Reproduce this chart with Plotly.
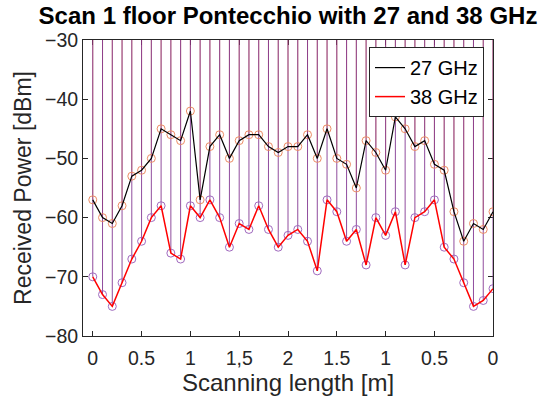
import plotly.graph_objects as go

# Scan positions along the path [m] (out and back, 0.1 m step)
positions = [0.0, 0.1, 0.2, 0.3, 0.4, 0.5, 0.6, 0.7, 0.8, 0.9, 1.0, 1.1, 1.2, 1.3,
             1.4, 1.5, 1.6, 1.7, 1.8, 1.9, 2.0, 2.1, 2.2, 2.3, 2.4, 2.5, 2.6, 2.7,
             2.8, 2.9, 3.0, 3.1, 3.2, 3.3, 3.4, 3.5, 3.6, 3.7, 3.8, 3.9, 4.0, 4.1]

# Received power [dBm]
p27 = [-57, -60, -61, -58, -53, -52, -50, -45, -46, -47, -42, -57, -48, -46,
       -50, -47, -46, -46, -48, -49, -48, -48, -46, -50, -45, -50, -51, -55,
       -47, -49, -52, -43, -45, -48, -47, -51, -52, -59, -64, -61, -62, -59]
p38 = [-70, -73, -75, -71, -67, -64, -60, -58, -66, -67, -58, -60, -57, -60,
       -65, -61, -62, -58, -62, -65, -63, -62, -64, -69, -57, -59, -64, -62,
       -68, -60, -63, -59, -68, -60, -59, -57, -65, -67, -71, -75, -74, -72]

stem_baseline = 0

tick_vals = [0, 0.5, 1, 1.5, 2, 2.5, 3, 3.5, 4.1]
tick_text = ["0", "0.5", "1", "1,5", "2", "1.5", "1", "0.5", "0"]

ORANGE = "#D95319"
PURPLE = "#7E2F8E"
AX = "#262626"
FONT = "Liberation Sans, Arial"


def stem_segments(xs, ys, base):
    sx, sy = [], []
    for x, y in zip(xs, ys):
        sx += [x, x, None]
        sy += [y, base, None]
    return sx, sy


fig = go.Figure()

s27x, s27y = stem_segments(positions, p27, stem_baseline)
s38x, s38y = stem_segments(positions, p38, stem_baseline)

fig.add_trace(go.Scatter(x=s27x, y=s27y, mode="lines",
                         line=dict(color=ORANGE, width=1),
                         opacity=0.55, showlegend=False, hoverinfo="skip"))
fig.add_trace(go.Scatter(x=s38x, y=s38y, mode="lines",
                         line=dict(color=PURPLE, width=1),
                         opacity=0.85, showlegend=False, hoverinfo="skip"))

fig.add_trace(go.Scatter(x=positions, y=p27, mode="markers",
                         marker=dict(symbol="circle-open", size=8,
                                     color="rgb(236,140,100)",
                                     line=dict(width=1)),
                         showlegend=False))
fig.add_trace(go.Scatter(x=positions, y=p38, mode="markers",
                         marker=dict(symbol="circle-open", size=8,
                                     color="rgb(160,105,190)",
                                     line=dict(width=1)),
                         showlegend=False))

fig.add_trace(go.Scatter(x=positions, y=p27, mode="lines", name="27 GHz",
                         line=dict(color="black", width=1.2)))
fig.add_trace(go.Scatter(x=positions, y=p38, mode="lines", name="38 GHz",
                         line=dict(color="#FF0000", width=1.5)))

axis_common = dict(showgrid=False, zeroline=False, showline=True,
                   linecolor=AX, linewidth=1, mirror="ticks",
                   ticks="inside", ticklen=5, tickcolor=AX,
                   tickfont=dict(family=FONT, size=19.5, color=AX),
                   layer="below traces")

fig.update_xaxes(range=[-0.1, 4.1], tickmode="array", tickvals=tick_vals,
                 ticktext=tick_text, ticklabelstandoff=5,
                 title=dict(text="Scanning length [m]", standoff=4,
                            font=dict(family=FONT, size=24, color=AX)),
                 **axis_common)
fig.update_yaxes(range=[-80, -30], tickmode="array",
                 tickvals=[-80, -70, -60, -50, -40, -30],
                 title=dict(text="Received Power [dBm]", standoff=6,
                            font=dict(family=FONT, size=23, color=AX)),
                 **axis_common)

fig.update_layout(
    width=545, height=405,
    margin=dict(l=83, r=52, t=40, b=69),
    paper_bgcolor="white", plot_bgcolor="white",
    title=dict(text="<b>Scan 1 floor Pontecchio with 27 and 38 GHz</b>",
               x=(83 + 493) / 2 / 545, xanchor="center",
               y=1 - 15.5 / 405, yanchor="middle",
               font=dict(family=FONT, size=24, color="black")),
    legend=dict(x=0.978, y=0.976, xanchor="right", yanchor="top",
                bgcolor="white", bordercolor=AX, borderwidth=1,
                font=dict(family=FONT, size=20, color="black"),
                tracegroupgap=0, itemwidth=30),
    showlegend=True,
)

fig.write_html("out.html")
